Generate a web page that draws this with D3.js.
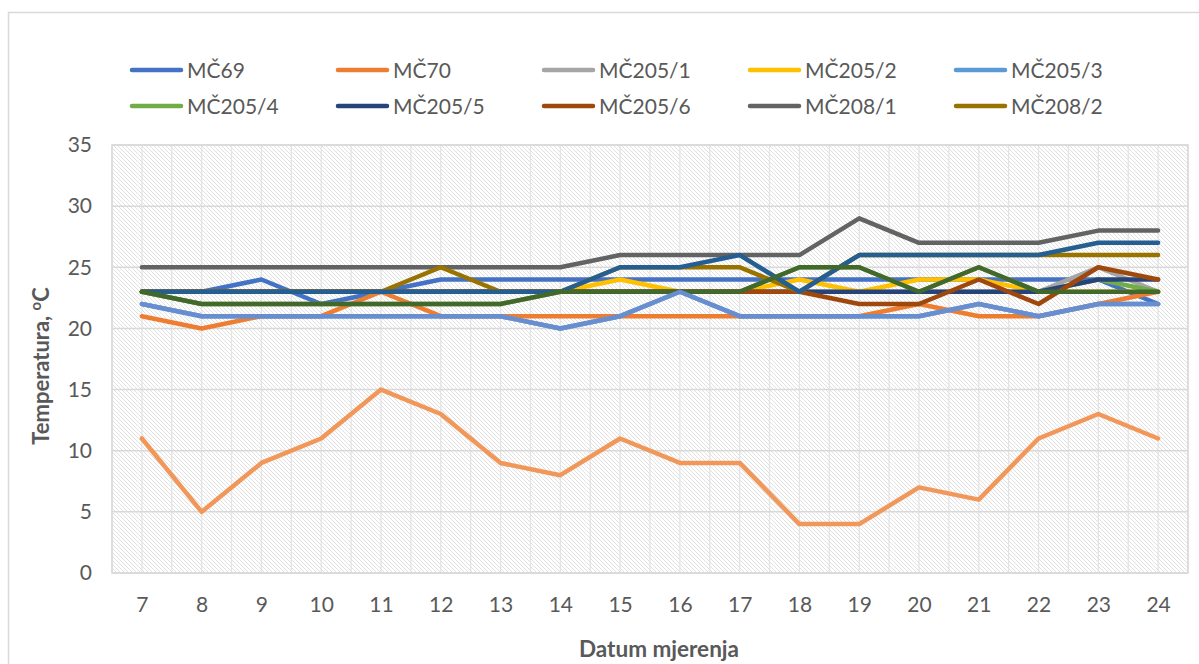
<!DOCTYPE html>
<html><head><meta charset="utf-8">
<script src="https://cdn.jsdelivr.net/npm/d3@7/dist/d3.min.js"></script>
<style>
body{margin:0;background:#fff;}
svg{display:block;font-family:Lato,"Open Sans",sans-serif;}
</style>
</head><body>
<svg id="c" width="1199" height="664"></svg>
<script>
// ---- data ----
const days = [7,8,9,10,11,12,13,14,15,16,17,18,19,20,21,22,23,24];
const yTicks = [0,5,10,15,20,25,30,35];
const seriesNames = ["MČ69","MČ70","MČ205/1","MČ205/2","MČ205/3","MČ205/4","MČ205/5","MČ205/6","MČ208/1","MČ208/2","Serija 11","Serija 12","Serija 13","Serija 14"];
const legendCount = 10;
const mc69   = [23,23,24,22,23,24,24,24,24,24,24,24,24,24,24,24,24,22];
const mc70   = [21,20,21,21,23,21,21,21,21,21,21,21,21,22,21,21,22,23];
const mc205_1= [23,23,23,23,23,23,23,23,23,23,23,23,23,23,23,23,25,23];
const mc205_2= [23,23,23,23,23,23,23,23,24,23,23,24,23,24,24,23,23,23];
const mc205_3= [22,21,21,21,21,21,21,20,21,23,21,21,21,21,22,21,22,22];
const mc205_4= [23,22,22,22,22,22,22,23,23,23,23,25,25,23,25,23,24,23];
const mc205_5= [23,23,23,23,23,23,23,23,23,23,23,23,23,23,23,23,24,24];
const mc205_6= [23,23,23,23,23,23,23,23,23,23,23,23,22,22,24,22,25,24];
const mc208_1= [25,25,25,25,25,25,25,25,26,26,26,26,29,27,27,27,28,28];
const mc208_2= [23,23,23,23,23,25,23,23,25,25,25,23,26,26,26,26,26,26];
const s11    = [23,23,23,23,23,23,23,23,25,25,26,23,26,26,26,26,27,27];
const s12    = [23,22,22,22,22,22,22,23,23,23,23,25,25,23,25,23,23,23];
const s13    = [22,21,21,21,21,21,21,20,21,23,21,21,21,21,22,21,22,22];
const s14    = [11,5,9,11,15,13,9,8,11,9,9,4,4,7,6,11,13,11];
const seriesValues = [mc69,mc70,mc205_1,mc205_2,mc205_3,mc205_4,mc205_5,mc205_6,mc208_1,mc208_2,s11,s12,s13,s14];
const seriesColors = ["#4472C4","#ED7D31","#A5A5A5","#FFC000","#5B9BD5","#70AD47","#264478","#9E480E","#636363","#997300","#255E91","#43682B","#698ED0","#F1975A"];

// ---- drawing ----
const svg = d3.select("#c");
const M = {l:112, r:1188, t:145, b:573};
const x = d3.scalePoint().domain(days).range([M.l, M.r]).padding(0.5);
const y = d3.scaleLinear().domain([0,35]).range([M.b, M.t]);
const step = x.step();
const txt = "#595959", grid = "#d9d9d9";

// outer chart border
svg.append("rect").attr("x",8.5).attr("y",12.5).attr("width",1300).attr("height",800)
  .attr("fill","none").attr("stroke",grid).attr("stroke-width",1.5);

const defs = svg.append("defs");
const pat = defs.append("pattern").attr("id","hatch").attr("patternUnits","userSpaceOnUse")
  .attr("width",4).attr("height",4);
pat.append("rect").attr("width",4).attr("height",4).attr("fill","#fff");
pat.append("path").attr("d","M-1,-1L5,5M-1,3L1,5M3,-1L5,1")
  .attr("stroke","#e1e1e1").attr("stroke-width",1);

svg.append("rect").attr("x",M.l).attr("y",M.t).attr("width",M.r-M.l).attr("height",M.b-M.t)
  .attr("fill","url(#hatch)");

// gridlines
const vLines = [];
days.forEach(d => { vLines.push(x(d) - step/2); vLines.push(x(d)); });
vLines.push(M.r);
svg.append("g").selectAll("line").data(vLines).join("line")
  .attr("x1",d=>d).attr("x2",d=>d).attr("y1",M.t).attr("y2",M.b)
  .attr("stroke","#e4e4e4").attr("stroke-width",1.3);
svg.append("g").selectAll("line").data(yTicks).join("line")
  .attr("x1",M.l).attr("x2",M.r).attr("y1",d=>y(d)).attr("y2",d=>y(d))
  .attr("stroke",grid).attr("stroke-width",1.5);
svg.append("rect").attr("x",M.l).attr("y",M.t).attr("width",M.r-M.l).attr("height",M.b-M.t)
  .attr("fill","none").attr("stroke",grid).attr("stroke-width",1.5);

// axes
const gy = svg.append("g").attr("transform",`translate(${M.l},0)`)
  .call(d3.axisLeft(y).tickValues(yTicks).tickSize(0).tickPadding(20));
gy.select(".domain").remove();
gy.selectAll("text").attr("fill",txt).style("font-size","21px").style("font-family","Lato");

const gx = svg.append("g").attr("transform",`translate(0,${M.b})`)
  .call(d3.axisBottom(x).tickSize(0).tickPadding(24));
gx.select(".domain").remove();
gx.selectAll("text").attr("fill",txt).style("font-size","21px").style("font-family","Lato");

// lines
const line = d3.line().x((d,i)=>x(days[i])).y(d=>y(d));
svg.append("g").selectAll("path").data(seriesValues).join("path")
  .attr("d",line).attr("fill","none")
  .attr("stroke",(d,i)=>seriesColors[i]).attr("stroke-width",4.5)
  .attr("stroke-linejoin","round").attr("stroke-linecap","round");

// legend
const leg = svg.append("g");
seriesNames.slice(0,legendCount).forEach((n,i)=>{
  const cx = 130 + (i%5)*206, cy = 70 + Math.floor(i/5)*36;
  leg.append("line").attr("x1",cx+2).attr("x2",cx+51).attr("y1",cy).attr("y2",cy)
    .attr("stroke",seriesColors[i]).attr("stroke-width",4.5).attr("stroke-linecap","round");
  leg.append("text").attr("x",cx+57).attr("y",cy+7.5).text(n)
    .attr("fill",txt).style("font-size","21px");
});

// axis titles
const yt = svg.append("text").attr("transform","translate(49,366) rotate(-90)")
  .attr("text-anchor","middle").attr("fill",txt).style("font-size","22px").style("font-weight","bold");
yt.append("tspan").text("Temperatura, ");
yt.append("tspan").text("o").attr("dy",-8).style("font-size","15px");
yt.append("tspan").text("C").attr("dy",8);

svg.append("text").attr("x",659).attr("y",657).attr("text-anchor","middle")
  .attr("fill",txt).style("font-size","22.5px").style("font-weight","bold").text("Datum mjerenja");
</script>
</body></html>
